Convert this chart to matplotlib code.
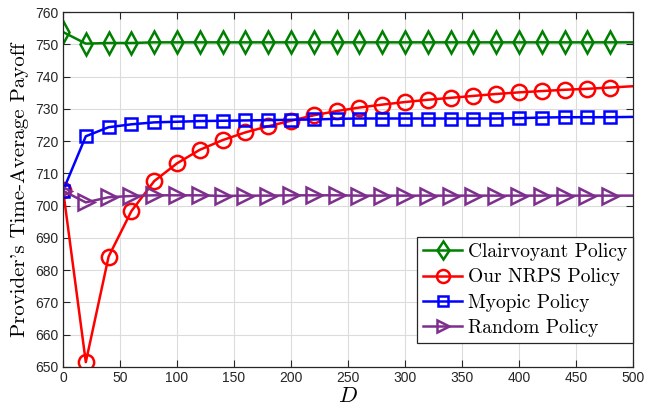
import numpy as np
import matplotlib
matplotlib.use('Agg')
import matplotlib.pyplot as plt

plt.rcParams['mathtext.fontset'] = 'cm'
plt.rcParams['font.family'] = ['Liberation Sans', 'DejaVu Sans']

# data
D = [0, 20, 40, 60, 80, 100, 120, 140, 160, 180, 200, 220, 240, 260, 280, 300,
     320, 340, 360, 380, 400, 420, 440, 460, 480, 500]
clairvoyant = [753.8, 750.2, 750.4, 750.4, 750.6, 750.6, 750.6, 750.6, 750.6, 750.6,
               750.6, 750.6, 750.6, 750.6, 750.6, 750.6, 750.6, 750.6, 750.6, 750.6,
               750.6, 750.6, 750.6, 750.6, 750.6, 750.6]
nrps = [705.0, 651.5, 684.2, 698.3, 707.6, 713.1, 717.3, 720.3, 722.7, 724.6,
        726.3, 728.0, 729.3, 730.4, 731.3, 732.1, 732.8, 733.4, 734.0, 734.6,
        735.1, 735.5, 735.9, 736.2, 736.6, 737.0]
myopic = [704.6, 721.5, 724.3, 725.2, 725.8, 726.0, 726.2, 726.3, 726.4, 726.5,
          726.6, 726.7, 726.9, 727.0, 727.0, 727.0, 727.0, 727.0, 727.0, 727.0,
          727.1, 727.3, 727.4, 727.4, 727.4, 727.5]
rand = [704.6, 701.0, 702.6, 703.0, 703.2, 703.2, 703.2, 703.0, 703.1, 703.1,
        703.2, 703.2, 703.2, 703.1, 703.1, 703.1, 703.1, 703.1, 703.1, 703.1,
        703.1, 703.1, 703.1, 703.1, 703.1, 703.1]

fig = plt.figure(figsize=(6.47, 4.07), dpi=100)
ax = fig.add_axes([63/647, 1 - 367/407, 570/647, 355/407])

mk = list(range(len(D) - 1))
style = dict(lw=1.8, ms=11, mew=1.8, mfc='none', markevery=mk)
ax.plot(D, clairvoyant, color='#008000', marker='d', label='Clairvoyant Policy', **style)
ax.plot(D, nrps, color='#ff0000', marker='o', label='Our NRPS Policy', **style)
ax.plot(D, myopic, color='#0000ff', marker='s', label='Myopic Policy',
        **{**style, 'ms': 9})
ax.plot(D, rand, color='#7e2f8e', marker='>', label='Random Policy', **style)

ax.set_xlim(0, 500)
ax.set_ylim(650, 760)
ax.set_xticks(np.arange(0, 501, 50))
ax.set_yticks(np.arange(650, 761, 10))
ax.grid(True, color='#dcdcdc', lw=0.8)
ax.set_axisbelow(True)
ax.tick_params(direction='in', top=True, right=True, length=5, width=0.8,
               labelsize=10, colors='#262626', pad=3)
for s in ax.spines.values():
    s.set_color('#262626')
    s.set_linewidth(0.9)

ax.set_xlabel(r'$D$', fontsize=16, labelpad=0.5)
ax.set_ylabel("Provider's Time-Average Payoff", family=['cmr10', 'DejaVu Serif'],
              fontsize=15, labelpad=5)

leg = ax.legend(loc='lower right', bbox_to_anchor=(1.0, 24/355), borderaxespad=0,
                prop={'family': 'cmr10', 'size': 14}, fancybox=False,
                edgecolor='#262626', framealpha=1, handlelength=2.0,
                handletextpad=0.3, labelspacing=0.38, borderpad=0.3,
                markerscale=0.85)
leg.get_frame().set_linewidth(0.9)

fig.savefig('out.png', dpi=100)
